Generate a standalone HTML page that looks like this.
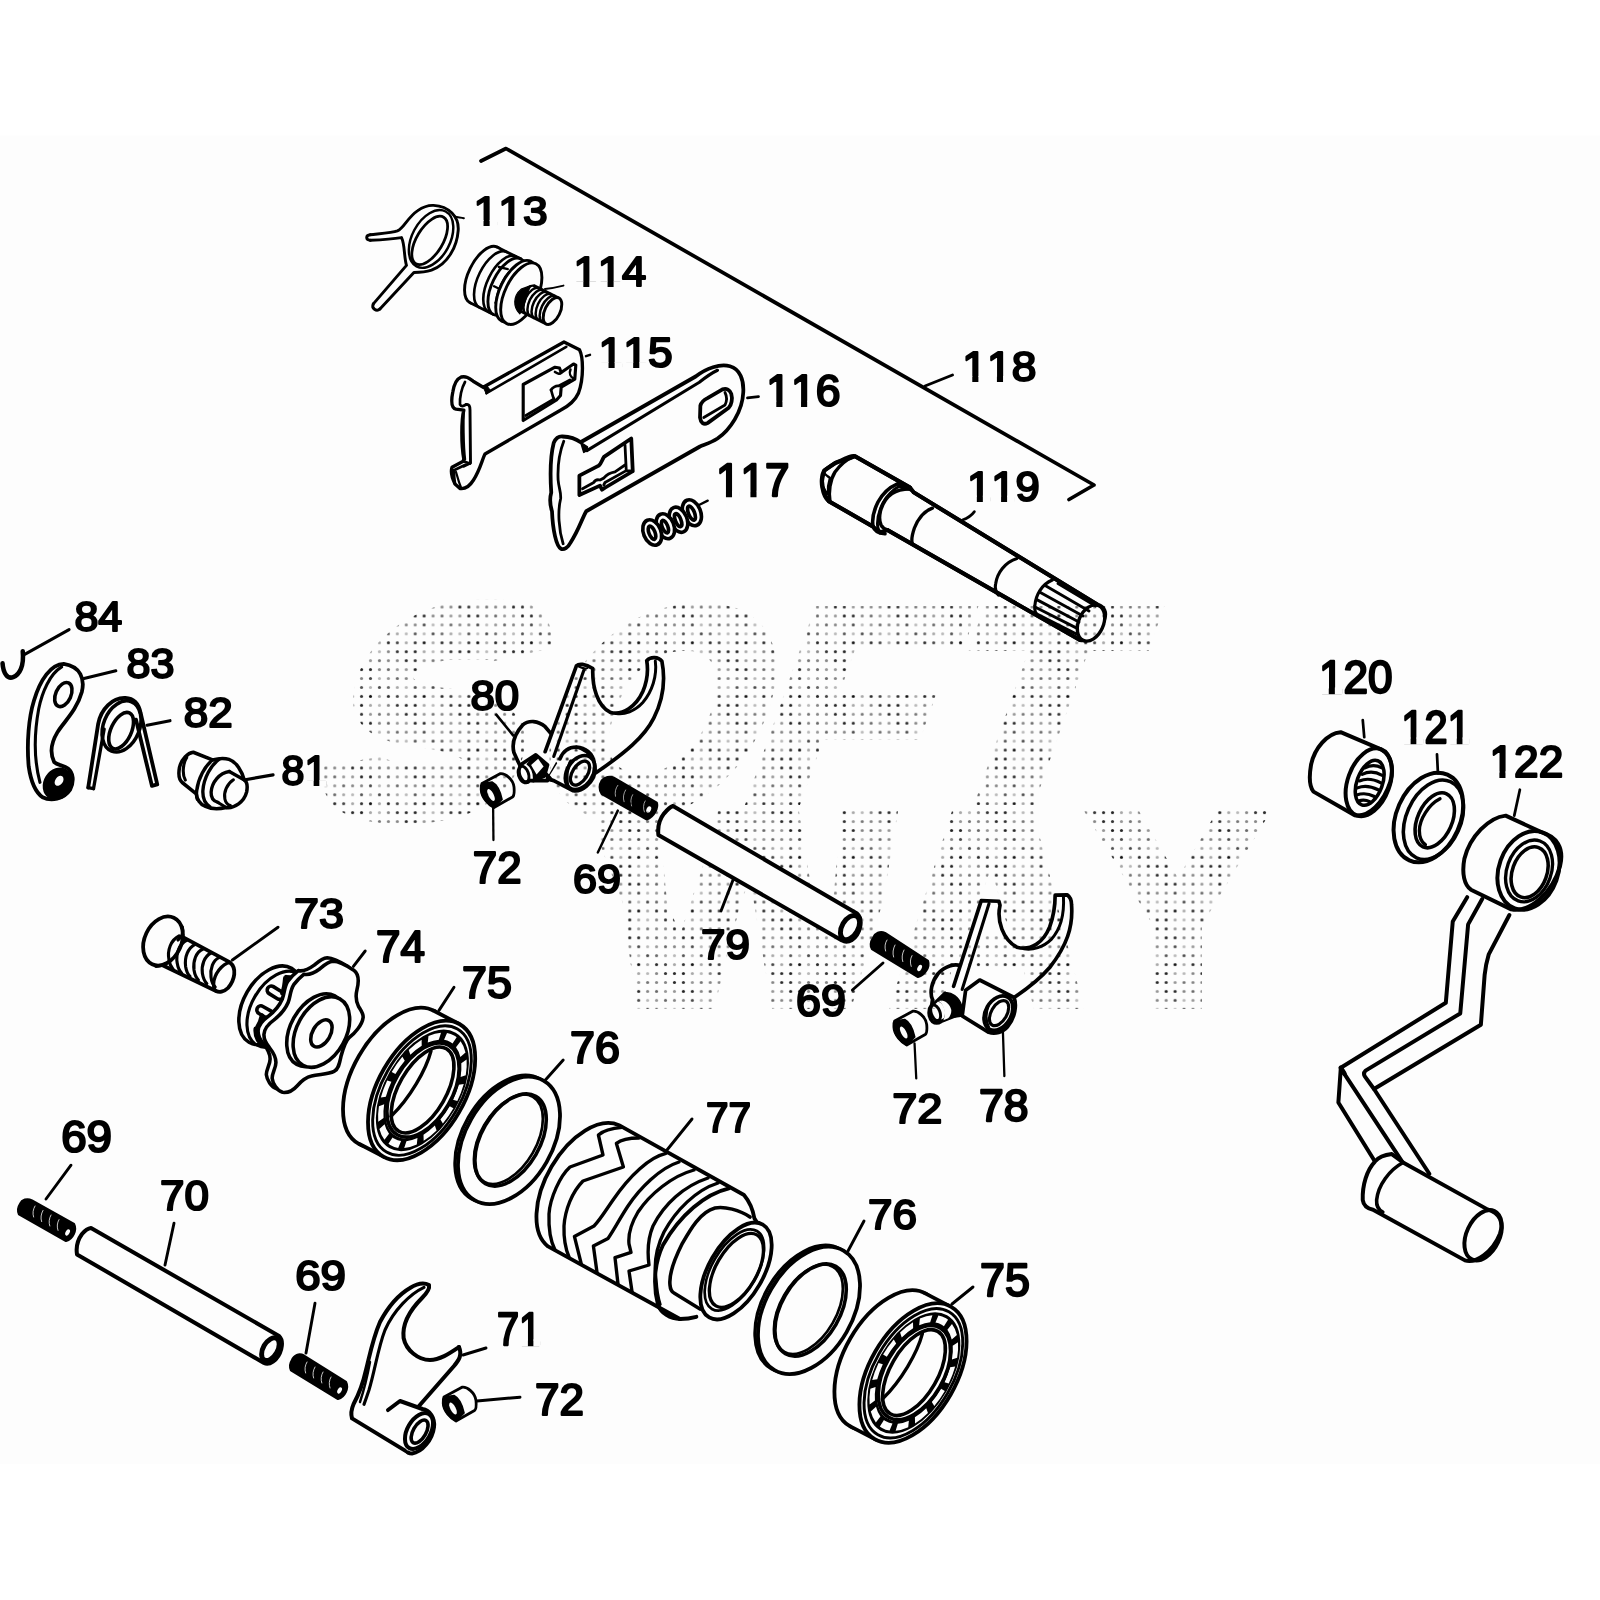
<!DOCTYPE html>
<html><head><meta charset="utf-8"><title>Parts diagram</title>
<style>
html,body{margin:0;padding:0;background:#fff;}
body{width:1600px;height:1600px;overflow:hidden;font-family:"Liberation Sans",sans-serif;}
svg{display:block}
.p{fill:none;stroke:#000;stroke-linecap:round;stroke-linejoin:round}
.w{fill:#fdfdfd;stroke:#000;stroke-linecap:round;stroke-linejoin:round}
.k{fill:#000;stroke:#000;stroke-linejoin:round}
.cv{fill:#fdfdfd;stroke:none}
.lbl text{font-kerning:none;font-family:"Liberation Sans",sans-serif;font-size:200px;fill:#000;stroke:#000;stroke-width:10px;stroke-linejoin:round}
</style></head><body>
<svg width="1600" height="1600" viewBox="0 0 1600 1600">
<rect width="1600" height="1600" fill="#fff"/>
<rect y="135.5" width="1600" height="1328.2" fill="#fdfdfd"/>
<!-- p113_114.svg -->
<g transform="translate(360,190) scale(0.1375)" class="p" stroke-width="21.28">
<!-- 113 spring clip -->
<path d="M75,325 C150,317 235,312 272,298 C320,278 345,200 420,150 C460,122 500,110 535,112 C645,117 722,195 714,295 C706,410 640,540 520,583 C475,598 425,600 392,600 L145,865"/>
<path d="M75,366 C150,362 250,354 302,346 C328,400 318,480 338,548 L97,828"/>
<path d="M75,325 C40,328 40,364 75,366"/>
<path d="M97,828 C80,860 120,888 145,865"/>
<ellipse cx="517" cy="356" rx="226" ry="138" transform="rotate(-62 517 356)" stroke-width="17.92"/>
<ellipse cx="507" cy="367" rx="197" ry="95" transform="rotate(-59 507 367)" stroke-width="20.16"/>
<path d="M690,195 C715,200 740,200 755,205" stroke-width="15.68"/>
<!-- 114 bolt -->
<ellipse class="w" cx="900" cy="618" rx="110" ry="225" transform="rotate(26 900 618)"/>
<path d="M999,416 L1169,501 L971,905 L801,820 Z" style="fill:#fdfdfd;stroke:none"/>
<path d="M999,416 L1169,501 M801,820 L971,905"/>
<path d="M1066,450 A110,225 26 0 0 868,854" stroke-width="19.04"/>
<path d="M1133,483 A110,225 26 0 0 935,887" stroke-width="19.04"/>
<ellipse class="w" cx="1070" cy="703" rx="110" ry="225" transform="rotate(26 1070 703)"/>
<ellipse class="w" cx="1119" cy="728" rx="100" ry="205" transform="rotate(26 1119 728)" stroke-width="19.04"/>
<path d="M1010,560 L1075,575 M975,700 L1045,735 M985,820 L1060,860" stroke-width="16.8"/>
<ellipse class="w" cx="1137" cy="736" rx="118" ry="242" transform="rotate(26 1137 736)"/>
<ellipse class="w" cx="1173" cy="754" rx="118" ry="242" transform="rotate(26 1173 754)"/>
<path class="k" d="M1172,721 C1112,771 1112,851 1162,901 C1202,851 1202,771 1242,696 Z" stroke-width="8.96"/>
<path d="M1268,697 L1446,786 L1354,974 L1176,885 Z" style="fill:#fdfdfd;stroke:none"/>
<path d="M1268,697 L1446,786 M1176,885 L1354,974"/>
<path d="M1268,697 A55,105 26 0 0 1176,885" stroke-width="17.92"/>
<path d="M1298,712 A55,105 26 0 0 1206,900" stroke-width="17.92"/>
<path d="M1327,727 A55,105 26 0 0 1235,915" stroke-width="17.92"/>
<path d="M1357,742 A55,105 26 0 0 1265,930" stroke-width="17.92"/>
<path d="M1387,756 A55,105 26 0 0 1295,944" stroke-width="17.92"/>
<path d="M1416,771 A55,105 26 0 0 1324,959" stroke-width="17.92"/>
<ellipse class="w" cx="1400" cy="880" rx="55" ry="105" transform="rotate(26 1400 880)"/>
<path d="M1345,720 C1390,715 1440,705 1480,695" stroke-width="13.44"/>
</g>
<!-- p115.svg -->
<g transform="translate(440,330) scale(0.1)" class="p" stroke-width="33.6">
<path class="w" d="M1240,120 L1395,198 C1432,270 1440,480 1385,630 C1345,720 1280,765 1200,805 L450,1240 C420,1300 400,1400 335,1500 C295,1565 245,1592 200,1585 L150,1540 C120,1480 108,1410 120,1372 L232,1312 L238,1290 C212,1150 212,900 238,802 L160,792 C112,780 108,720 128,620 C140,540 170,488 212,470 C262,458 292,482 332,512 L432,572 Z"/>
<path d="M465,632 L1262,168" stroke-width="26.88"/>
<path class="k" d="M432,572 L470,560 L500,600 L465,640 Z" stroke-width="11.2"/>
<path d="M250,520 C215,580 195,680 200,745 C215,770 230,765 262,745" stroke-width="26.88"/>
<path d="M262,745 C290,740 300,760 300,800 L305,1330 L238,1362 " stroke-width="29.12"/>
<path d="M238,802 C232,900 232,1150 250,1295" stroke-width="24.64"/>
<path d="M140,1402 L250,1350 M150,1540 C140,1480 140,1440 140,1402 M232,1312 L300,1335" stroke-width="26.88"/>
<path d="M210,1575 C180,1500 170,1450 160,1420" stroke-width="22.4"/>
<!-- window -->
<path d="M832,545 L1150,372 L1195,380 L1212,425 L1335,340 L1358,352 L1348,492 L1212,572 L1205,655 L1165,700 L832,905 Z" stroke-width="31.36"/>
<path d="M858,855 L1140,690" stroke-width="26.88"/>
<path d="M1110,600 C1125,575 1160,555 1185,560 L1300,500" stroke-width="26.88"/>
<path d="M1140,690 C1120,650 1120,620 1110,600" stroke-width="26.88"/>
<path d="M1305,395 C1290,430 1300,470 1345,490" stroke-width="24.64"/>
<path d="M1212,425 C1200,445 1180,440 1150,420" stroke-width="26.88"/>
<path d="M1460,262 L1500,248" stroke-width="24.64"/>
</g>
<!-- p116_117.svg -->
<g transform="translate(545,355) scale(0.125)" class="p" stroke-width="30.24">
<path class="w" d="M140,652 C200,655 250,672 285,698 L1205,172 C1290,105 1400,68 1480,90 C1560,112 1592,200 1586,300 C1580,450 1480,600 1380,668 C1330,700 1290,712 1240,732 L330,1250 C300,1300 270,1400 205,1500 C185,1540 150,1562 128,1550 C90,1530 62,1400 56,1250 C40,1200 36,1150 50,1100 C40,950 45,800 70,702 C88,662 110,650 140,652 Z"/>
<path d="M335,765 L1235,218 C1270,190 1320,150 1380,122" stroke-width="24.64"/>
<path class="k" d="M285,698 L340,735 L335,765 L310,780 Z" stroke-width="11.2"/>
<path d="M150,690 C115,780 100,900 105,1000 C110,1060 130,1100 125,1150 C100,1250 110,1400 145,1510" stroke-width="22.4"/>
<!-- left window -->
<path d="M275,965 L430,885 C450,870 455,840 472,815 L690,668 L702,930 L480,1062 L456,1078 L440,1045 L275,1120 Z"/>
<path d="M640,720 L650,925 M650,925 L702,930 M650,925 L480,1020 L470,1040" stroke-width="22.4"/>
<path d="M300,1070 L390,1020 C400,1000 420,995 440,1000 L470,985 C490,960 530,940 560,935 L640,880" stroke-width="22.4"/>
<!-- right slot -->
<path d="M1243,405 C1250,380 1270,360 1300,345 L1420,275 C1452,262 1480,280 1490,310 C1502,350 1492,400 1470,422 L1300,545 C1268,560 1245,540 1240,500 Z"/>
<path d="M1270,500 L1440,400 M1440,300 C1455,330 1455,370 1440,400" stroke-width="22.4"/>
<!-- 117 spring -->
<g stroke-width="29.12">
<ellipse class="w" cx="1175" cy="1262" rx="70" ry="108" transform="rotate(-22 1175 1262)"/>
<ellipse cx="1172" cy="1265" rx="24" ry="60" transform="rotate(-22 1172 1265)"/>
<ellipse class="w" cx="1068" cy="1318" rx="68" ry="105" transform="rotate(-22 1068 1318)"/>
<ellipse cx="1065" cy="1321" rx="22" ry="56" transform="rotate(-22 1065 1321)"/>
<ellipse class="w" cx="963" cy="1370" rx="68" ry="104" transform="rotate(-22 963 1370)"/>
<ellipse cx="960" cy="1373" rx="22" ry="54" transform="rotate(-22 960 1373)"/>
<ellipse class="w" cx="858" cy="1420" rx="70" ry="106" transform="rotate(-22 858 1420)"/>
<ellipse cx="856" cy="1422" rx="24" ry="56" transform="rotate(-22 856 1422)"/>
<path d="M1232,1200 L1302,1165" stroke-width="17.92"/>
</g>
</g>
<!-- p116_leader.svg -->
<path class="p" d="M747.5,397.8 L758.5,396.7" stroke-width="2.8"/>
<!-- p118_119.svg -->
<g class="p" stroke-width="3.696">
<path d="M481,161 L506,148.5 L1094,485 L1069,499.5"/>
<path d="M925,386 L952.5,375" stroke-width="2.912"/>
</g>
<g transform="translate(810,440) scale(0.2)" class="p" stroke-width="20.16">
<!-- shaft body -->
<path d="M225,81 L500,238 L519,262 L1440,825 C1470,835 1485,860 1470,900 C1450,960 1400,1010 1350,1000 L387,450 L350,462 L312,431 L94,306 C75,280 62,240 60,206 C62,180 68,165 72,152 L125,116 Z" style="fill:none"/>
<path d="M500,238 L225,81 C210,76 190,86 125,116 C95,135 75,150 69,156 C58,175 56,215 62,240 C68,275 80,295 94,306 L312,431 M519,262 L1440,825 M387,450 L1350,1000"/>
<path d="M219,84 C185,95 150,125 125,160 C100,200 92,260 100,306" stroke-width="16.8"/>
<path d="M75,170 C85,180 95,185 100,190 C92,215 88,245 90,270 C80,262 72,250 68,240" stroke-width="12.32"/>
<path d="M437,219 C400,235 362,269 340,310 C320,350 310,400 315,430 C320,450 335,465 375,469" stroke-width="17.92"/>
<path d="M456,225 C420,245 385,275 365,315 C345,355 335,400 338,430 C340,448 348,458 358,463" stroke-width="14.56"/>
<path d="M500,244 C470,245 437,250 410,268 C385,285 362,320 352,355 C345,385 348,410 355,425 C362,438 375,446 387,450" stroke-width="17.92"/>
<path class="k" d="M437,219 L500,238 L519,262 L500,250 C480,245 460,240 445,232 Z" stroke-width="11.2"/>
<path d="M612,341 C570,355 540,395 522,440 C510,475 505,500 512,520" stroke-width="16.8"/>
<path d="M1035,592 C975,610 935,665 928,720 C924,745 930,765 942,775" stroke-width="15.68"/>
<path d="M1212,700 C1160,720 1128,775 1124,830 C1122,850 1128,865 1135,875" stroke-width="15.68"/>
<!-- spline end face -->
<ellipse class="w" cx="1405" cy="915" rx="62" ry="95" transform="rotate(24 1405 915)" stroke-width="16.8"/>
<g stroke-width="14.56">
<path d="M1180,730 L1395,855"/><path d="M1152,762 L1365,880"/><path d="M1134,798 L1345,910"/><path d="M1125,835 L1336,942"/><path d="M1130,868 L1342,975"/><path d="M1240,718 L1428,830"/>
</g>
<path d="M762,400 C790,390 810,375 822,358" stroke-width="13.44"/>
</g>
<!-- p120_122.svg -->
<g transform="translate(1290,720) scale(0.1875)" class="p" stroke-width="21.28">
<!-- 120 -->
<path class="w" d="M270,65 C200,70 130,150 112,240 C100,310 108,360 125,382 L345,508 C420,520 500,440 535,330 C560,240 530,170 470,150 Z"/>
<ellipse cx="420" cy="332" rx="112" ry="188" transform="rotate(20 420 332)"/>
<ellipse cx="425" cy="335" rx="68" ry="125" transform="rotate(20 425 335)" stroke-width="19.04"/>
<g stroke-width="16.8"><path d="M400,255 C430,240 460,240 490,255"/><path d="M385,290 C415,275 455,275 492,295"/><path d="M370,325 C400,312 440,312 485,335"/><path d="M360,362 C390,350 430,352 470,372"/><path d="M355,400 C385,390 420,392 450,408"/><path d="M365,432 C385,425 410,428 425,436"/></g>
<path d="M388,0 L396,92" stroke-width="14.56"/>
<!-- 121 -->
<ellipse class="w" cx="738" cy="520" rx="170" ry="250" transform="rotate(24 738 520)"/>
<ellipse cx="765" cy="532" rx="145" ry="222" transform="rotate(24 765 532)" stroke-width="19.04"/>
<ellipse cx="772" cy="535" rx="92" ry="155" transform="rotate(24 772 535)" stroke-width="19.04"/>
<path d="M800,420 C740,450 690,530 690,590 C690,625 700,650 722,665" stroke-width="17.92"/>
<path d="M784,183 L789,285" stroke-width="14.56"/>
<!-- 122 lever arm -->
<path d="M945,945 L868,1075 L831,1508 L271,1855 L258,2040 L453,2355 L743,2420 L448,1965 L453,1970 L1018,1625 L1038,1360 C1040,1340 1045,1300 1060,1250 L1170,1040 Z" style="fill:#fdfdfd;stroke:none"/>
<path d="M945,945 L868,1075 L831,1508 L271,1855 L258,2040 L453,2355"/>
<path d="M1025,955 L950,1090 L908,1565 L403,1870 C393,1880 393,1892 400,1902 L448,1968 L743,2420"/>
<path d="M1170,1040 L1060,1250 C1045,1300 1040,1340 1038,1360 L1018,1625 L448,1968"/>
<path d="M275,1865 L598,2355"/>
<path d="M271,1855 L290,1885" stroke-width="24.64"/>
<!-- 122 boss -->
<path class="w" d="M1150,510 C1060,520 960,620 930,740 C915,820 930,880 965,905 L1180,1010 C1280,1030 1400,920 1440,780 C1465,680 1420,620 1340,598 Z"/>
<ellipse cx="1272" cy="802" rx="158" ry="215" transform="rotate(20 1272 802)"/>
<ellipse cx="1275" cy="805" rx="118" ry="170" transform="rotate(20 1275 805)" stroke-width="17.92"/>
<ellipse cx="1278" cy="812" rx="92" ry="140" transform="rotate(20 1278 812)" stroke-width="19.04"/>
<path d="M1226,372 L1196,510" stroke-width="14.56"/>
<!-- pedal -->
<path class="w" d="M543,2315 C500,2320 470,2335 453,2355 C410,2400 385,2480 388,2560 C392,2590 410,2605 443,2612 L933,2882 C990,2900 1080,2840 1120,2740 C1140,2680 1120,2630 1053,2610 L603,2360 Z"/>
<path d="M603,2360 C530,2400 470,2480 462,2560 C460,2590 470,2612 495,2625" stroke-width="19.04"/>
<ellipse cx="1030" cy="2748" rx="88" ry="142" transform="rotate(25 1030 2748)"/>
</g>
<!-- p69_72b.svg -->
<g transform="translate(0,1110) scale(0.2)" class="p" stroke-width="20.16">
<!-- 69 third -->
<path class="k" d="M100,470 C110,448 135,440 160,452 L370,570 C385,600 365,645 330,655 L95,522 C88,505 90,485 100,470 Z" stroke-width="11.2"/>
<g style="stroke:#fdfdfd" stroke-width="3.92"><path d="M175,480 C165,498 162,515 168,535"/><path d="M215,502 C205,520 202,540 208,558"/><path d="M255,525 C245,543 243,562 249,580"/><path d="M295,548 C285,565 284,585 290,602"/></g>
<ellipse cx="338" cy="612" rx="10" ry="17" transform="rotate(28 338 612)" style="fill:#fdfdfd;stroke:none"/>
<path d="M230,445 L355,276" stroke-width="14.56"/>
<!-- 70 rod -->
<path class="w" d="M455,590 L1395,1130 C1425,1160 1405,1230 1365,1258 C1345,1272 1330,1270 1320,1265 L385,722 C380,690 388,650 410,620 C425,602 440,592 455,590 Z"/>
<ellipse cx="1352" cy="1196" rx="36" ry="62" transform="rotate(30 1352 1196)" stroke-width="24.64"/>
<path d="M825,775 L870,566" stroke-width="14.56"/>
</g>
<g transform="translate(270,1230) scale(0.2)" class="p" stroke-width="20.16">
<!-- 69 fourth -->
<path class="k" d="M110,650 C120,625 145,615 170,628 L380,760 C395,790 375,835 340,845 L105,702 C98,685 100,665 110,650 Z" stroke-width="11.2"/>
<g style="stroke:#fdfdfd" stroke-width="3.92"><path d="M185,660 C175,678 172,695 178,715"/><path d="M225,685 C215,703 212,722 218,740"/><path d="M265,710 C255,728 253,747 259,765"/><path d="M305,735 C295,752 294,772 300,790"/></g>
<ellipse cx="348" cy="802" rx="10" ry="17" transform="rotate(28 348 802)" style="fill:#fdfdfd;stroke:none"/>
<path d="M180,615 L225,366" stroke-width="14.56"/>
<!-- 71 fork -->
<path d="M795,275 C770,262 740,265 700,290 C640,325 590,385 550,460 C515,540 500,620 480,700 C462,780 440,830 418,870 C405,900 405,925 410,942 L690,1112 L820,960 L745,880 L920,680 C945,650 962,625 945,585 C900,615 850,650 800,650 C740,650 680,600 668,540 C660,470 700,400 760,340 C785,315 800,295 795,275 Z" style="fill:#fdfdfd;stroke:none"/>
<path d="M945,585 C900,615 850,650 800,650 C740,650 680,600 668,540 C660,470 700,400 760,340 C785,315 800,295 795,275 C770,262 740,265 700,290 C640,325 590,385 550,460 C515,540 500,620 480,700 C462,780 440,830 418,870 C405,900 405,925 410,942 L690,1112"/>
<path d="M945,585 C962,625 945,650 920,680 L745,880"/>
<path d="M770,287 C700,320 620,400 575,500 C540,590 525,700 495,800 C485,830 478,850 470,872" stroke-width="15.68"/>
<path d="M500,660 C485,740 470,800 450,860" stroke-width="12.32"/>
<path class="w" d="M590,900 L650,855 L762,895 C800,900 825,940 820,985 C812,1050 760,1110 710,1118 C700,1118 695,1115 690,1112 "/>
<ellipse class="w" cx="745" cy="1005" rx="58" ry="98" transform="rotate(30 745 1005)"/>
<ellipse cx="748" cy="1008" rx="32" ry="64" transform="rotate(30 748 1008)" stroke-width="17.92"/>
<path d="M965,625 L1080,590" stroke-width="14.56"/>
<!-- 72 third -->
<path d="M1035,855 L1250,836" stroke-width="14.56"/>
</g>
<!-- p72_spacers.svg -->
<defs><g id="sp">
<path class="w" d="M240,470 L600,275 C700,260 860,380 880,540 C890,650 880,720 850,740 L480,950 C380,900 230,750 225,600 C222,540 230,490 240,470 Z" stroke-width="56"/>
<path class="k" d="M240,470 L440,440 C520,480 600,600 640,790 L480,950 C380,900 230,750 225,600 Z" stroke-width="33.6"/>
<ellipse cx="420" cy="700" rx="52" ry="132" transform="rotate(-28 420 700)" style="fill:#fdfdfd;stroke:none"/>
</g></defs>
<g transform="translate(470,760) scale(0.05)"><use href="#sp"/></g>
<g transform="translate(882.7,997.5) scale(0.05)"><use href="#sp"/></g>
<g transform="translate(432,1373.5) scale(0.05)"><use href="#sp"/></g>
<!-- p73_74.svg -->
<g transform="translate(130,880) scale(0.2)" class="p" stroke-width="19.04">
<!-- 73 screw -->
<path class="w" d="M232,268 L500,412 C535,440 525,500 490,540 C470,560 445,562 430,555 L150,420 Z"/>
<ellipse class="w" cx="165" cy="305" rx="92" ry="128" transform="rotate(25 165 305)"/>
<path d="M262,235 C268,260 260,285 240,300 M130,432 C160,430 185,420 200,405" stroke-width="15.68"/>
<g stroke-width="15.68">
<path d="M245,280 C205,300 185,350 195,400 C198,420 205,435 215,445"/>
<path d="M285,300 C245,320 228,370 236,415 C240,440 248,455 258,465"/>
<path d="M325,322 C290,340 272,385 278,432 C282,458 290,472 300,482"/>
<path d="M365,345 C330,360 314,405 320,450 C324,475 332,490 342,500"/>
<path d="M405,365 C372,382 356,425 362,468 C366,492 374,508 384,518"/>
<path d="M445,388 C415,402 400,442 405,485 C408,510 416,525 426,535"/>
</g>
<path d="M500,412 C460,420 420,470 418,520 C418,540 422,550 430,555" stroke-width="16.8"/>
<path d="M512,400 L740,236" stroke-width="14.56"/>
<path d="M1117,432 L1176,355" stroke-width="14.56"/>
</g>
<g transform="translate(230,950) scale(0.09375)" class="p" stroke-width="38.08">
<!-- 74 star cam -->
<ellipse class="w" cx="430" cy="590" rx="285" ry="455" transform="rotate(30 430 590)"/>
<ellipse cx="505" cy="632" rx="275" ry="440" transform="rotate(30 505 632)" stroke-width="33.6"/>
<path d="M440,428 L528,482" stroke-width="125.4"/><path d="M440,428 L528,482" style="stroke:#fdfdfd" stroke-width="49.28"/>
<path d="M330,640 L418,690" stroke-width="125.4"/><path d="M330,640 L418,690" style="stroke:#fdfdfd" stroke-width="49.28"/>
<path d="M560,460 C575,420 585,370 590,300 M600,290 L720,300 M340,700 C335,740 320,780 290,830 M275,840 C270,900 290,960 330,1000" stroke-width="49.28"/>
<!-- star back edge -->
<path class="w" transform="translate(-62,-38)" d="M790,258 C850,270 900,245 960,200 C1000,165 1040,125 1100,120 C1160,122 1250,170 1320,215 C1380,260 1375,340 1355,420 C1340,480 1340,540 1370,600 C1400,650 1425,680 1420,720 C1410,800 1330,890 1275,930 C1230,970 1210,1040 1185,1130 C1170,1200 1160,1270 1110,1295 C1050,1325 950,1325 870,1345 C800,1360 760,1400 715,1450 C680,1490 620,1525 560,1518 C500,1500 455,1420 450,1370 C445,1320 490,1260 490,1200 C490,1140 460,1090 420,1040 C385,1000 360,960 362,900 C365,840 400,795 470,745 C540,690 590,630 620,560 C645,500 640,430 680,370 C710,330 750,290 790,258 Z"/>
<path class="w" d="M790,258 C850,270 900,245 960,200 C1000,165 1040,125 1100,120 C1160,122 1250,170 1320,215 C1380,260 1375,340 1355,420 C1340,480 1340,540 1370,600 C1400,650 1425,680 1420,720 C1410,800 1330,890 1275,930 C1230,970 1210,1040 1185,1130 C1170,1200 1160,1270 1110,1295 C1050,1325 950,1325 870,1345 C800,1360 760,1400 715,1450 C680,1490 620,1525 560,1518 C500,1500 455,1420 450,1370 C445,1320 490,1260 490,1200 C490,1140 460,1090 420,1040 C385,1000 360,960 362,900 C365,840 400,795 470,745 C540,690 590,630 620,560 C645,500 640,430 680,370 C710,330 750,290 790,258 Z"/>
<!-- boss -->
<ellipse class="w" cx="915" cy="855" rx="268" ry="418" transform="rotate(29 915 855)"/>
<ellipse class="w" cx="975" cy="875" rx="262" ry="405" transform="rotate(29 975 875)"/>
<ellipse cx="975" cy="890" rx="95" ry="158" transform="rotate(30 975 890)"/>
</g>
<!-- p75a_76a.svg -->
<defs>
<g id="brg">
<ellipse class="w" cx="333" cy="637" rx="217" ry="382" transform="rotate(30 333 637)"/>
<path d="M519,304 L644,369 L272,1035 L147,970 Z" style="fill:#fdfdfd;stroke:none"/>
<path d="M519,304 L644,369 M147,970 L272,1035"/>
<ellipse class="w" cx="458" cy="702" rx="217" ry="382" transform="rotate(30 458 702)"/>
<ellipse cx="460" cy="703" rx="198" ry="355" transform="rotate(30 460 703)" stroke-width="14.56"/>
<g transform="translate(462,702) rotate(30) scale(0.565,1)">
<circle r="298" stroke-width="69.44"/>
<circle r="298" style="stroke:#fdfdfd" stroke-width="38.08" stroke-dasharray="88 46" stroke-linecap="butt"/>
</g>
<ellipse class="w" cx="465" cy="700" rx="146" ry="258" transform="rotate(30 465 700)" stroke-width="17.92"/>
<ellipse cx="463" cy="700" rx="118" ry="238" transform="rotate(30 463 700)" stroke-width="17.92"/>
<path d="M505,505 C480,600 400,740 305,832" stroke-width="16.8"/>
</g>
<g id="wsh">
<ellipse class="w" cx="880" cy="945" rx="217" ry="345" transform="rotate(30 880 945)" stroke-width="16.8"/>
<ellipse class="w" cx="895" cy="952" rx="217" ry="345" transform="rotate(30 895 952)"/>
<ellipse cx="903" cy="950" rx="146" ry="252" transform="rotate(30 903 950)" stroke-width="17.92"/>
<ellipse cx="892" cy="946" rx="140" ry="245" transform="rotate(30 892 946)" stroke-width="13.44"/>
</g>
</defs>
<g transform="translate(330,950) scale(0.2)" class="p" stroke-width="19.04">
<use href="#brg"/>
<path d="M545,302 L620,186" stroke-width="14.56"/>
<use href="#wsh"/>
<path d="M1077,650 L1166,550" stroke-width="14.56"/>
<use href="#wsh" transform="translate(1500,850)"/>
<path d="M2590,1505 L2670,1355" stroke-width="14.56"/>
<use href="#brg" transform="translate(2457,1413)"/>
<path d="M3110,1770 L3215,1685" stroke-width="14.56"/>
</g>
<!-- p77.svg -->
<g transform="translate(520,1090) scale(0.2)" class="p" stroke-width="19.04">
<!-- 77 drum body -->
<path d="M495,176 L1120,525 C1145,555 1165,600 1172,642 L1190,670 C1260,720 1270,850 1200,980 C1150,1080 1070,1150 1000,1142 L900,1095 L880,1135 L800,1145 L140,782 A200,352 30 0 1 495,176 Z" style="fill:#fdfdfd;stroke:none"/>
<path d="M800,1145 L140,782 A200,352 30 0 1 495,176 L1120,525 C1145,555 1165,600 1172,642 L1190,670"/>
<path d="M800,1145 C830,1145 860,1140 882,1134"/>
<!-- left-end arcs + upper zigzag groove -->
<path d="M510,187 C470,190 420,200 392,225 L415,325 L250,385 C200,430 150,540 145,620 C142,700 155,760 175,800" stroke-width="16.8"/>
<path d="M595,240 C560,240 510,245 482,267 L517,385 L315,455 C260,510 225,600 220,680 C218,750 230,800 245,835" stroke-width="16.8"/>
<!-- lower zigzag groove 1 -->
<path d="M730,317 C650,335 550,425 465,550 C430,600 400,650 370,680 L272,732 L307,872" stroke-width="16.8"/>
<path d="M795,360 C700,390 600,490 540,580 C500,640 470,700 440,742 L367,780 L385,912" stroke-width="16.8"/>
<!-- lower zigzag groove 2 -->
<path d="M870,400 C760,430 650,520 590,610 C560,660 540,720 545,770 L555,812 L475,838 L490,970" stroke-width="16.8"/>
<path d="M940,440 C820,480 720,570 665,680 C640,740 635,800 645,875 L545,905 L560,1008" stroke-width="16.8"/>
<!-- plain grooves -->
<path d="M990,465 C880,500 780,600 720,710 C680,790 670,880 680,950 C683,1000 690,1040 700,1072" stroke-width="16.8"/>
<!-- big end rim -->
<path d="M1045,492 C925,520 800,625 715,775 C670,870 665,980 690,1075 C705,1115 750,1145 800,1145" />
<!-- cone base arc + hub -->
<path d="M1150,635 C1100,600 1020,580 975,590 C900,610 850,700 810,770 C770,850 745,930 750,975 C752,1000 760,1010 770,1015 L900,1095" stroke-width="17.92"/>
<ellipse class="w" cx="1080" cy="905" rx="136" ry="268" transform="rotate(30 1080 905)"/>
<ellipse cx="1082" cy="902" rx="102" ry="205" transform="rotate(30 1082 902)" stroke-width="16.8"/>
<ellipse cx="1072" cy="900" rx="112" ry="225" transform="rotate(30 1072 900)" stroke-width="13.44"/>
<path d="M735,300 L860,145" stroke-width="14.56"/>
</g>
<!-- p78.svg -->
<g transform="translate(870,880) scale(0.15625)" class="p" stroke-width="23.52">
<!-- boss -->
<path class="w" d="M580,548 C540,535 480,550 435,600 C395,650 380,720 400,765 L395,800 C370,830 375,880 400,905 C420,920 440,915 455,905 L560,862 L620,760 L600,640 Z"/>
<!-- fork web fill -->
<path d="M712,130 L825,135 L832,162 C810,260 850,380 940,430 C1030,455 1110,400 1150,300 C1175,230 1185,150 1185,97 L1262,95 C1285,110 1290,135 1290,160 C1300,300 1260,420 1150,560 C1090,630 1000,700 920,752 L760,975 L590,870 L535,680 Z" style="fill:#fdfdfd;stroke:none"/>
<path d="M535,680 L712,132 L825,136 L832,162 C810,260 850,380 940,430 C1030,455 1110,400 1150,300 C1175,230 1185,150 1185,97 L1262,95 C1285,110 1290,135 1290,160 C1300,300 1260,420 1150,560 C1090,630 1000,700 922,752"/>
<path d="M762,150 L590,700" stroke-width="20.16"/>
<path d="M1238,105 C1245,230 1215,320 1160,380 C1110,430 1040,450 985,440" stroke-width="19.04"/>
<!-- hub -->
<path class="w" d="M612,705 L702,640 L922,752 C940,800 930,880 880,940 C850,975 800,990 760,975 L590,870 Z"/>
<ellipse class="w" cx="822" cy="852" rx="82" ry="118" transform="rotate(30 822 852)"/>
<ellipse cx="826" cy="852" rx="50" ry="88" transform="rotate(30 826 852)" stroke-width="20.16"/>
<path d="M760,800 C740,850 740,900 760,940" stroke-width="15.68"/>
<!-- pin -->
<ellipse cx="420" cy="850" rx="28" ry="52" transform="rotate(-20 420 850)" stroke-width="19.04"/>
<path class="k" d="M480,722 C520,715 570,750 585,800 C592,830 590,860 580,872 L520,880 L470,900 C500,850 480,790 440,775 Z" stroke-width="8.96"/>
<path d="M440,775 C470,760 510,790 520,830 C522,850 515,870 500,885 L470,897 C490,850 470,795 440,775 Z" style="fill:#fdfdfd;stroke:none"/>
<path d="M400,800 L480,722" stroke-width="17.92"/>
<!-- 72 -->
<path d="M285,1045 L296,1270" stroke-width="14.56"/>
<path d="M850,950 L860,1255" stroke-width="14.56"/>
</g>
<!-- p80.svg -->
<g transform="translate(460,640) scale(0.15625)" class="p" stroke-width="23.52">
<!-- boss -->
<path class="w" d="M345,720 C330,660 350,600 400,545 C440,510 500,515 545,555 L600,620 L640,760 L560,900 L470,900 C420,890 380,800 345,720 Z"/>
<!-- fork blade + web -->
<path d="M745,165 C760,150 800,150 850,182 C845,300 880,420 960,462 C1040,490 1130,420 1170,330 C1195,270 1205,190 1195,132 C1220,105 1270,108 1292,135 C1315,250 1300,380 1240,500 C1180,620 1060,720 880,845 L760,960 L600,760 L545,715 Z" style="fill:#fdfdfd;stroke:none"/>
<path d="M545,715 L745,165 C760,150 800,150 850,182 C845,300 880,420 960,462 C1040,490 1130,420 1170,330 C1195,270 1205,190 1195,132 C1220,105 1270,108 1292,135 C1315,250 1300,380 1240,500 C1180,620 1060,720 870,850"/>
<path d="M792,195 L600,745" stroke-width="20.16"/>
<path d="M1250,135 C1262,230 1230,330 1170,400 C1120,455 1050,480 1000,470" stroke-width="19.04"/>
<path d="M760,170 C780,180 800,185 815,180" stroke-width="13.44"/>
<!-- hub -->
<path class="w" d="M640,760 C660,710 700,685 745,685 C800,690 850,720 860,790 C875,850 850,900 810,935 C780,960 750,970 725,965 L600,900 L560,890" />
<ellipse class="w" cx="768" cy="848" rx="82" ry="118" transform="rotate(33 768 848)"/>
<ellipse cx="768" cy="852" rx="48" ry="86" transform="rotate(33 768 852)" stroke-width="21.28"/>
<path class="k" d="M705,770 C670,830 670,900 700,950 C680,880 690,820 720,770 Z" stroke-width="8.96"/>
<path d="M745,685 C790,700 830,730 845,760" stroke-width="17.92"/>
<!-- small pin -->
<path class="w" d="M400,790 C375,810 365,850 385,885 C400,915 430,920 445,900 L470,900 L540,870 L560,800 L485,735 Z"/>
<ellipse cx="410" cy="858" rx="28" ry="52" transform="rotate(-20 410 858)" stroke-width="19.04"/>
<path class="k" d="M485,735 L560,800 L545,860 L520,880 L470,895 C475,850 455,810 430,795 Z" stroke-width="8.96"/>
<path d="M455,800 L500,760 L535,810 L490,860 Z" style="fill:#fdfdfd;stroke:none"/>
<path class="k" d="M540,840 C570,860 590,890 600,905 L560,895 Z" stroke-width="8.96"/>
<!-- leader 80 -->
<path d="M232,478 L340,610" stroke-width="16.8"/>
<!-- 72 spacer -->
<path d="M212,1075 L214,1280" stroke-width="14.56"/>
<!-- 69 set screw -->
<path class="k" d="M905,900 C925,875 960,868 985,880 L1260,1040 C1272,1075 1245,1130 1195,1150 L905,985 C890,960 890,925 905,900 Z" stroke-width="11.2"/>
<g style="stroke:#fdfdfd" stroke-width="3.92"><path d="M1010,930 C995,950 990,975 995,1000"/><path d="M1060,960 C1045,985 1042,1010 1050,1035"/><path d="M1105,990 C1092,1010 1090,1040 1098,1062"/><path d="M1185,1030 C1172,1050 1172,1080 1180,1100"/></g>
<ellipse cx="1208" cy="1085" rx="14" ry="22" transform="rotate(25 1208 1085)" style="fill:#fdfdfd;stroke:none"/>
<path d="M1010,1092 L882,1360" stroke-width="15.68"/>
</g>
<!-- p81_84.svg -->
<g transform="translate(0,590) scale(0.2125)" class="p" stroke-width="17.92">
<!-- 84 -->
<path d="M12,345 C15,392 36,420 62,410 C92,398 114,358 107,288" stroke-width="21.28"/>
<path d="M112,305 L325,186" stroke-width="14.56"/>
<!-- 83 -->
<path class="w" d="M300,348 C240,350 190,420 160,520 C135,600 125,720 135,830 C145,900 165,950 200,975 C240,995 300,985 330,940 C350,900 345,860 320,840 C300,825 270,825 255,810 C235,770 240,720 270,670 C300,620 360,570 385,480 C400,420 380,360 300,348 Z"/>
<path d="M290,362 C235,395 198,480 182,560 C160,680 160,800 188,905" stroke-width="14.56"/>
<ellipse cx="298" cy="492" rx="36" ry="60" transform="rotate(24 298 492)" stroke-width="16.8"/>
<ellipse class="k" cx="272" cy="912" rx="62" ry="74" transform="rotate(32 272 912)" stroke-width="11.2"/>
<ellipse cx="278" cy="898" rx="18" ry="26" transform="rotate(35 278 898)" style="fill:#fdfdfd;stroke:none"/>
<path d="M395,416 L545,380" stroke-width="14.56"/>
<!-- 82 -->
<path d="M415,930 L462,630 C475,560 530,505 590,508 C635,510 655,545 662,580 L740,915 L715,922 L640,610" />
<path d="M440,935 L490,655" stroke-width="15.68"/>
<path d="M415,930 L440,935" stroke-width="15.68"/>
<ellipse cx="572" cy="642" rx="85" ry="125" transform="rotate(22 572 642)" stroke-width="16.8"/>
<ellipse cx="570" cy="662" rx="48" ry="92" transform="rotate(25 570 662)" stroke-width="16.8"/>
<path d="M692,636 L800,615" stroke-width="14.56"/>
<path d="M1140,895 L1285,870" stroke-width="14.56"/>
</g>
<g transform="translate(130,700) scale(0.1375)" class="p" stroke-width="25.76">
<!-- 81 pin -->
<path class="w" d="M460,380 C420,385 375,430 360,490 C350,545 360,585 382,602 L482,682 C485,720 510,760 545,772 C580,790 640,795 700,782 C760,790 830,740 848,670 C858,620 845,590 830,580 C815,520 775,450 720,432 C690,422 640,425 600,436 Z"/>
<path d="M412,420 C385,460 378,540 402,582" stroke-width="22.4"/>
<path d="M600,436 C545,480 495,570 485,660 C482,690 485,710 490,722" stroke-width="24.64"/>
<path d="M652,428 C590,470 535,570 530,660 C528,710 548,755 580,775" stroke-width="24.64"/>
<path d="M722,520 C650,530 595,600 590,670 C588,710 605,735 640,745" stroke-width="24.64"/>
<path d="M722,520 L832,582" stroke-width="24.64"/>
<path d="M640,745 L700,782" stroke-width="22.4"/>
<path d="M752,580 C705,610 680,670 690,720 C695,745 710,762 730,768" stroke-width="22.4"/>
</g>
<!-- zz_watermark.svg -->
<defs>
<pattern id="dots" x="8.43" y="12.49" width="53.64" height="53.64" patternUnits="userSpaceOnUse">
<circle cx="4.47" cy="4.47" r="1.55" fill="#888"/><circle cx="4.47" cy="13.41" r="1.55" fill="#6a6a6a"/><circle cx="4.47" cy="22.35" r="1.55" fill="#999"/><circle cx="4.47" cy="31.29" r="1.55" fill="#6a6a6a"/><circle cx="4.47" cy="40.23" r="1.55" fill="#2a2a2a"/><circle cx="4.47" cy="49.17" r="1.55" fill="#888"/><circle cx="13.41" cy="4.47" r="1.55" fill="#888"/><circle cx="13.41" cy="13.41" r="1.55" fill="#999"/><circle cx="13.41" cy="22.35" r="1.55" fill="#6a6a6a"/><circle cx="13.41" cy="31.29" r="1.55" fill="#aaa"/><circle cx="13.41" cy="40.23" r="1.55" fill="#444"/><circle cx="13.41" cy="49.17" r="1.55" fill="#333"/><circle cx="22.35" cy="4.47" r="1.55" fill="#2a2a2a"/><circle cx="22.35" cy="13.41" r="1.55" fill="#999"/><circle cx="22.35" cy="22.35" r="1.55" fill="#888"/><circle cx="22.35" cy="31.29" r="1.55" fill="#bbb"/><circle cx="22.35" cy="40.23" r="1.55" fill="#aaa"/><circle cx="22.35" cy="49.17" r="1.55" fill="#2a2a2a"/><circle cx="31.29" cy="4.47" r="1.55" fill="#333"/><circle cx="31.29" cy="13.41" r="1.55" fill="#222"/><circle cx="31.29" cy="22.35" r="1.55" fill="#888"/><circle cx="31.29" cy="31.29" r="1.55" fill="#555"/><circle cx="31.29" cy="40.23" r="1.55" fill="#333"/><circle cx="31.29" cy="49.17" r="1.55" fill="#222"/><circle cx="40.23" cy="4.47" r="1.55" fill="#999"/><circle cx="40.23" cy="13.41" r="1.55" fill="#2a2a2a"/><circle cx="40.23" cy="22.35" r="1.55" fill="#4a4a4a"/><circle cx="40.23" cy="31.29" r="1.55" fill="#bbb"/><circle cx="40.23" cy="40.23" r="1.55" fill="#111"/><circle cx="40.23" cy="49.17" r="1.55" fill="#aaa"/><circle cx="49.17" cy="4.47" r="1.55" fill="#777"/><circle cx="49.17" cy="13.41" r="1.55" fill="#888"/><circle cx="49.17" cy="22.35" r="1.55" fill="#bbb"/><circle cx="49.17" cy="31.29" r="1.55" fill="#4a4a4a"/><circle cx="49.17" cy="40.23" r="1.55" fill="#aaa"/><circle cx="49.17" cy="49.17" r="1.55" fill="#bbb"/>
</pattern>
<mask id="wm" maskUnits="userSpaceOnUse" x="0" y="0" width="1600" height="1600">
<rect width="1600" height="1600" fill="#000"/>
<g fill="#fff" stroke="none" transform="translate(285,0) skewX(-19.5)">
<g transform="translate(0,603) scale(1,1.063) translate(0,-603)">
<path d="M468,652 C462,626 440,628 410,628 C365,628 340,648 340,672 C340,705 380,708 410,712 C450,718 478,728 478,752 C478,775 450,783 410,783 C370,783 342,775 338,752" fill="none" stroke="#fff" stroke-width="56"/>
<path fill-rule="evenodd" d="M630,603 C700,603 735,650 735,705 C735,762 700,808 630,808 C560,808 525,762 525,705 C525,650 560,603 630,603 Z M630,648 C598,648 582,672 582,705 C582,740 598,763 630,763 C662,763 678,740 678,705 C678,672 662,648 630,648 Z"/>
</g>
<path d="M745,606 L908,606 L908,650 L800,650 L800,695 L897,695 L897,740 L800,740 L800,805 L745,805 Z"/>
<path d="M914,606 L1094,606 L1094,651 L1034,651 L1034,805 L974,805 L974,651 L914,651 Z"/>
</g>
<g fill="#fff" stroke="none">
<path d="M595,811 L658,811 L667,901 L680,935 L709,847 L718,811 L799,811 L810,880 L822,935 L833,901 L842,811 L898,811 L883,901 L851,1009 L772,1009 L750,880 L741,901 L714,1009 L637,1009 L622,901 L601,847 Z"/>
<path fill-rule="evenodd" d="M952,811 L1033,811 L1084,1009 L1034,1009 L1024,972 L951,972 L939,1009 L889,1009 Z M991,868 L1010,935 L968,935 Z"/>
<path d="M1084,811 L1139,811 L1178,878 L1217,811 L1271,811 L1202,925 L1202,1009 L1153,1009 L1153,925 Z"/>
</g>
</mask>
</defs>
<rect x="300" y="590" width="1000" height="440" fill="url(#dots)" mask="url(#wm)" style="mix-blend-mode:multiply"/>
<!-- zzz_p79.svg -->
<g transform="translate(640,780) scale(0.2)" class="p" stroke-width="20.16">
<path class="w" d="M165,130 L1085,668 C1120,700 1100,770 1060,800 C1040,812 1022,810 1010,802 L92,275 C88,240 95,200 120,168 C135,150 150,135 165,130 Z"/>
<ellipse cx="1050" cy="738" rx="40" ry="66" transform="rotate(30 1050 738)" stroke-width="24.64"/>
<path d="M465,500 L405,655" stroke-width="14.56"/>
<!-- 69 second -->
<path class="k" d="M1165,790 C1175,765 1200,755 1225,765 L1440,905 C1450,935 1425,975 1390,985 L1160,845 C1150,825 1155,805 1165,790 Z" stroke-width="11.2"/>
<g style="stroke:#fdfdfd" stroke-width="3.92"><path d="M1235,800 C1225,815 1222,835 1228,855"/><path d="M1275,825 C1265,845 1262,865 1268,885"/><path d="M1320,850 C1310,870 1308,890 1314,908"/><path d="M1360,878 C1350,895 1350,915 1356,932"/></g>
<ellipse cx="1398" cy="940" rx="10" ry="17" transform="rotate(28 1398 940)" style="fill:#fdfdfd;stroke:none"/>
<path d="M1215,915 L1062,1050" stroke-width="14.56"/>
</g>
<g class="lbl">
<g transform="matrix(0.2217 0 0 0.2056 473.61 224.81)"><text>113</text><rect x="6.0" y="-23.5" width="38.7" height="31" class="cv"/><rect x="72.3" y="-23.5" width="36" height="31" class="cv"/><rect x="117.2" y="-23.5" width="38.7" height="31" class="cv"/><rect x="183.5" y="-23.5" width="36" height="31" class="cv"/></g>
<g transform="matrix(0.2180 0 0 0.2111 573.59 286.44)"><text>114</text><rect x="6.0" y="-23.5" width="38.7" height="31" class="cv"/><rect x="72.3" y="-23.5" width="36" height="31" class="cv"/><rect x="117.2" y="-23.5" width="38.7" height="31" class="cv"/><rect x="183.5" y="-23.5" width="36" height="31" class="cv"/></g>
<g transform="matrix(0.2217 0 0 0.2167 598.61 367.23)"><text>115</text><rect x="6.0" y="-23.5" width="38.7" height="31" class="cv"/><rect x="72.3" y="-23.5" width="36" height="31" class="cv"/><rect x="117.2" y="-23.5" width="38.7" height="31" class="cv"/><rect x="183.5" y="-23.5" width="36" height="31" class="cv"/></g>
<g transform="matrix(0.2217 0 0 0.2138 962.36 381.00)"><text>118</text><rect x="6.0" y="-23.5" width="38.7" height="31" class="cv"/><rect x="72.3" y="-23.5" width="36" height="31" class="cv"/><rect x="117.2" y="-23.5" width="38.7" height="31" class="cv"/><rect x="183.5" y="-23.5" width="36" height="31" class="cv"/></g>
<g transform="matrix(0.2180 0 0 0.2105 967.09 500.53)"><text>119</text><rect x="6.0" y="-23.5" width="38.7" height="31" class="cv"/><rect x="72.3" y="-23.5" width="36" height="31" class="cv"/><rect x="117.2" y="-23.5" width="38.7" height="31" class="cv"/><rect x="183.5" y="-23.5" width="36" height="31" class="cv"/></g>
<g transform="matrix(0.2153 0 0 0.2099 74.38 631.03)"><text>84</text></g>
<g transform="matrix(0.2151 0 0 0.2095 126.48 677.78)"><text>83</text></g>
<g transform="matrix(0.2198 0 0 0.2164 183.85 726.58)"><text>82</text></g>
<g transform="matrix(0.2060 0 0 0.2099 281.53 785.13)"><text>81</text><rect x="117.2" y="-23.5" width="38.7" height="31" class="cv"/><rect x="183.5" y="-23.5" width="36" height="31" class="cv"/></g>
<g transform="matrix(0.2190 0 0 0.2158 470.49 709.59)"><text>80</text></g>
<g transform="matrix(0.2190 0 0 0.2237 472.79 882.63)"><text>72</text></g>
<g transform="matrix(0.2155 0 0 0.2059 572.98 892.96)"><text>69</text></g>
<g transform="matrix(0.2198 0 0 0.2171 701.10 959.48)"><text>79</text></g>
<g transform="matrix(0.2241 0 0 0.2237 796.12 1016.43)"><text>69</text></g>
<g transform="matrix(0.2254 0 0 0.2133 892.23 1123.43)"><text>72</text></g>
<g transform="matrix(0.2224 0 0 0.2263 978.91 1120.62)"><text>78</text></g>
<g transform="matrix(0.2208 0 0 0.2283 1318.90 692.80)"><text>120</text><rect x="6.0" y="-23.5" width="38.7" height="31" class="cv"/><rect x="72.3" y="-23.5" width="36" height="31" class="cv"/></g>
<g transform="matrix(0.2073 0 0 0.2313 1401.34 742.94)"><text>121</text><rect x="6.0" y="-23.5" width="38.7" height="31" class="cv"/><rect x="72.3" y="-23.5" width="36" height="31" class="cv"/><rect x="228.5" y="-23.5" width="38.7" height="31" class="cv"/><rect x="294.8" y="-23.5" width="36" height="31" class="cv"/></g>
<g transform="matrix(0.2209 0 0 0.2247 1489.50 776.68)"><text>122</text><rect x="6.0" y="-23.5" width="38.7" height="31" class="cv"/><rect x="72.3" y="-23.5" width="36" height="31" class="cv"/></g>
<g transform="matrix(0.2241 0 0 0.2105 294.12 927.53)"><text>73</text></g>
<g transform="matrix(0.2198 0 0 0.2230 376.10 961.89)"><text>74</text></g>
<g transform="matrix(0.2241 0 0 0.2200 462.12 998.46)"><text>75</text></g>
<g transform="matrix(0.2241 0 0 0.2237 570.12 1063.43)"><text>76</text></g>
<g transform="matrix(0.2026 0 0 0.2162 706.01 1131.92)"><text>77</text></g>
<g transform="matrix(0.2198 0 0 0.2171 868.10 1229.48)"><text>76</text></g>
<g transform="matrix(0.2241 0 0 0.2267 980.12 1296.41)"><text>75</text></g>
<g transform="matrix(0.2284 0 0 0.2237 61.14 1152.43)"><text>69</text></g>
<g transform="matrix(0.2198 0 0 0.2105 160.10 1209.53)"><text>70</text></g>
<g transform="matrix(0.2284 0 0 0.2105 295.14 1289.53)"><text>69</text></g>
<g transform="matrix(0.1983 0 0 0.2297 496.99 1344.85)"><text>71</text><rect x="117.2" y="-23.5" width="38.7" height="31" class="cv"/><rect x="183.5" y="-23.5" width="36" height="31" class="cv"/></g>
<g transform="matrix(0.2198 0 0 0.2200 535.10 1414.90)"><text>72</text></g>
<g transform="matrix(0.2224 0 0 0.2220 766.36 405.95)"><text>116</text><rect x="6.0" y="-23.5" width="38.7" height="31" class="cv"/><rect x="72.3" y="-23.5" width="36" height="31" class="cv"/><rect x="117.2" y="-23.5" width="38.7" height="31" class="cv"/><rect x="183.5" y="-23.5" width="36" height="31" class="cv"/></g>
<g transform="matrix(0.2202 0 0 0.2331 716.10 496.33)"><text>117</text><rect x="6.0" y="-23.5" width="38.7" height="31" class="cv"/><rect x="72.3" y="-23.5" width="36" height="31" class="cv"/><rect x="117.2" y="-23.5" width="38.7" height="31" class="cv"/><rect x="183.5" y="-23.5" width="36" height="31" class="cv"/></g>
</g>
</svg>
</body></html>
